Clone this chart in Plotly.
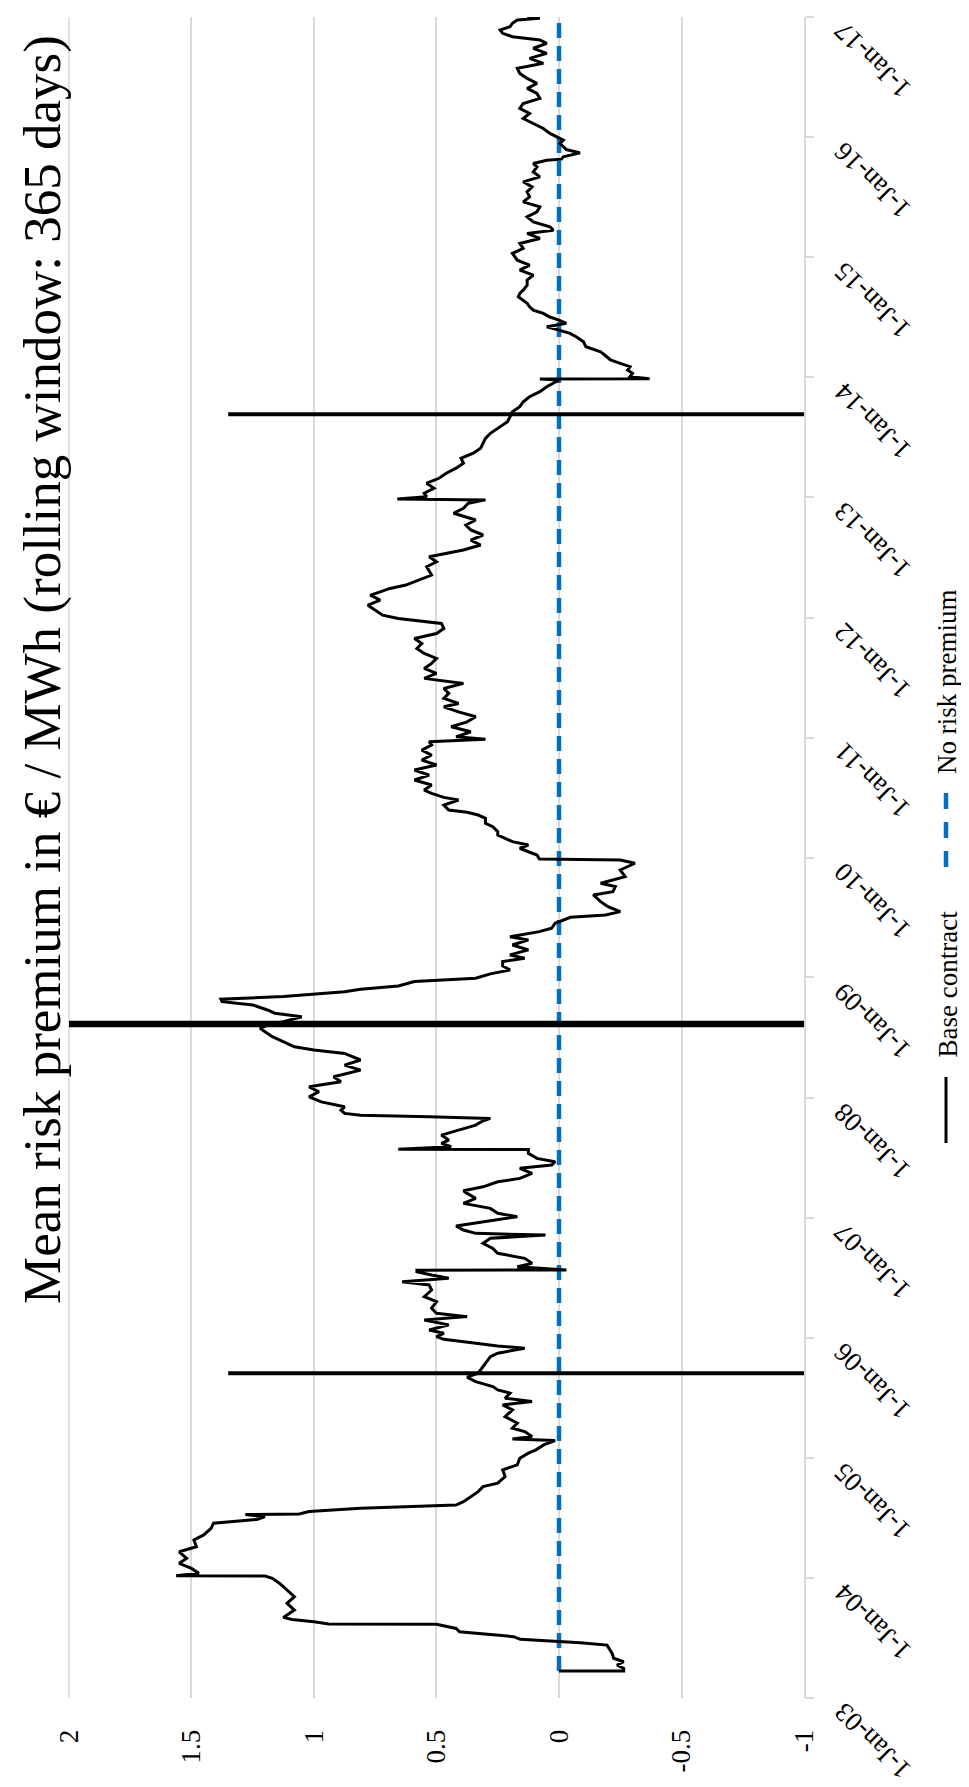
import pandas as pd
import plotly.graph_objects as go

# ---------------- data (decimal years, values in EUR/MWh) ----------------
t03 = [2003.225, 2003.226, 2003.247, 2003.275, 2003.302, 2003.331, 2003.372, 2003.414, 2003.441, 2003.461,
       2003.469, 2003.489, 2003.511, 2003.539, 2003.552, 2003.580, 2003.600, 2003.614, 2003.616, 2003.635,
       2003.655, 2003.672, 2003.733, 2003.789, 2003.844, 2003.899, 2003.955, 2003.997]
v03 = [0.0, -0.264, -0.264, -0.237, -0.264, -0.223, -0.217, -0.203, -0.196, -0.087,
       0.0, 0.158, 0.185, 0.36, 0.406, 0.42, 0.47, 0.5, 0.94, 1.0,
       1.09, 1.125, 1.08, 1.11, 1.08, 1.11, 1.14, 1.17]
t04 = [2004.016, 2004.018, 2004.039, 2004.080, 2004.122, 2004.163, 2004.218, 2004.260, 2004.316, 2004.358,
       2004.413, 2004.455, 2004.468, 2004.488, 2004.510, 2004.528, 2004.532, 2004.552, 2004.580, 2004.607,
       2004.635, 2004.677, 2004.718, 2004.760, 2004.788, 2004.843, 2004.899, 2004.941, 2004.996]
v04 = [1.2, 1.5625, 1.47, 1.5, 1.55, 1.52, 1.55, 1.48, 1.49, 1.45,
       1.42, 1.41, 1.34, 1.23, 1.2, 1.28, 1.06, 1.02, 0.81, 0.42,
       0.39, 0.36, 0.33, 0.31, 0.25, 0.22, 0.23, 0.17, 0.16]
t05 = [2005.038, 2005.066, 2005.107, 2005.143, 2005.157, 2005.176, 2005.218, 2005.246, 2005.288, 2005.343,
       2005.399, 2005.440, 2005.468, 2005.496, 2005.538, 2005.565, 2005.593, 2005.634, 2005.671, 2005.704,
       2005.732, 2005.788, 2005.843, 2005.871, 2005.913, 2005.932, 2005.967, 2005.987]
v05 = [0.125, 0.094, 0.0625, 0.016, 0.19, 0.11, 0.14, 0.19, 0.17, 0.22,
       0.19, 0.23, 0.11, 0.22, 0.2, 0.25, 0.27, 0.34, 0.375, 0.33,
       0.32, 0.30, 0.28, 0.25, 0.14, 0.25, 0.39, 0.47]
t06 = [2006.009, 2006.037, 2006.065, 2006.107, 2006.148, 2006.176, 2006.204, 2006.246, 2006.301, 2006.342,
       2006.398, 2006.440, 2006.467, 2006.496, 2006.523, 2006.550, 2006.562, 2006.565, 2006.592, 2006.620,
       2006.662, 2006.704, 2006.745, 2006.787, 2006.829, 2006.856, 2006.870, 2006.898, 2006.931, 2006.967]
v06 = [0.5, 0.47, 0.53, 0.45, 0.55, 0.375, 0.5, 0.52, 0.5, 0.55,
       0.52, 0.53, 0.64, 0.45, 0.52, 0.58, 0.58, -0.03, 0.17, 0.11,
       0.14, 0.25, 0.27, 0.31, 0.28, 0.055, 0.34, 0.39, 0.42, 0.31]
t07 = [2007.009, 2007.037, 2007.078, 2007.120, 2007.162, 2007.203, 2007.225, 2007.258, 2007.300, 2007.328,
       2007.370, 2007.412, 2007.439, 2007.467, 2007.495, 2007.537, 2007.568, 2007.570, 2007.592, 2007.620,
       2007.647, 2007.689, 2007.731, 2007.772, 2007.808, 2007.828, 2007.841, 2007.855, 2007.870, 2007.897,
       2007.925, 2007.966]
v07 = [0.17, 0.25, 0.28, 0.39, 0.34, 0.375, 0.39, 0.31, 0.25, 0.16,
       0.11, 0.16, 0.03, 0.016, 0.09, 0.125, 0.125, 0.656, 0.44, 0.48,
       0.45, 0.48, 0.41, 0.34, 0.31, 0.28, 0.53, 0.81, 0.875, 0.89,
       0.875, 0.97]
t08 = [2008.008, 2008.050, 2008.091, 2008.133, 2008.175, 2008.230, 2008.272, 2008.314, 2008.369, 2008.397,
       2008.424, 2008.466, 2008.508, 2008.549, 2008.578, 2008.613, 2008.633, 2008.674, 2008.703, 2008.730,
       2008.772, 2008.799, 2008.819, 2008.841, 2008.861, 2008.882, 2008.902, 2008.930, 2008.966, 2008.994]
v08 = [1.02, 0.98, 1.02, 0.89, 0.92, 0.81, 0.875, 0.81, 0.875, 1.0,
       1.08, 1.125, 1.17, 1.2, 1.22, 1.18, 1.125, 1.05, 1.16, 1.19,
       1.25, 1.375, 1.38, 1.125, 1.0, 0.875, 0.81, 0.656, 0.59, 0.34]
t09 = [2009.030, 2009.063, 2009.096, 2009.132, 2009.161, 2009.188, 2009.230, 2009.271, 2009.313, 2009.340,
       2009.382, 2009.410, 2009.452, 2009.480, 2009.502, 2009.521, 2009.549, 2009.590, 2009.632, 2009.688,
       2009.715, 2009.757, 2009.785, 2009.840, 2009.896, 2009.952, 2009.979, 2009.988]
v09 = [0.28, 0.2, 0.23, 0.23, 0.14, 0.2, 0.125, 0.19, 0.125, 0.2,
       0.08, 0.03, 0.016, -0.016, -0.047, -0.19, -0.25, -0.2, -0.17, -0.14,
       -0.22, -0.23, -0.17, -0.27, -0.25, -0.31, -0.25, 0.08]
t10 = [2010.021, 2010.048, 2010.077, 2010.104, 2010.132, 2010.160, 2010.187, 2010.215, 2010.257, 2010.285,
       2010.327, 2010.354, 2010.377, 2010.396, 2010.437, 2010.479, 2010.501, 2010.535, 2010.562, 2010.604,
       2010.646, 2010.687, 2010.729, 2010.771, 2010.812, 2010.854, 2010.895, 2010.937, 2010.965, 2010.985]
v10 = [0.09, 0.125, 0.16, 0.125, 0.19, 0.22, 0.25, 0.25, 0.27, 0.30,
       0.30, 0.33, 0.375, 0.45, 0.47, 0.41, 0.47, 0.52, 0.55, 0.52,
       0.59, 0.53, 0.59, 0.5, 0.56, 0.52, 0.56, 0.52, 0.53, 0.30]
t11 = [2011.006, 2011.048, 2011.090, 2011.131, 2011.173, 2011.214, 2011.256, 2011.284, 2011.326, 2011.368,
       2011.409, 2011.451, 2011.493, 2011.534, 2011.576, 2011.618, 2011.659, 2011.701, 2011.742, 2011.784,
       2011.826, 2011.867, 2011.909, 2011.951, 2011.978, 2011.992]
v11 = [0.42, 0.36, 0.44, 0.375, 0.34, 0.41, 0.47, 0.41, 0.47, 0.45,
       0.47, 0.39, 0.55, 0.5, 0.55, 0.52, 0.5, 0.55, 0.58, 0.56,
       0.59, 0.5, 0.47, 0.48, 0.59, 0.656]
t12 = [2012.020, 2012.061, 2012.103, 2012.145, 2012.186, 2012.214, 2012.242, 2012.270, 2012.297, 2012.325,
       2012.353, 2012.422, 2012.464, 2012.505, 2012.534, 2012.561, 2012.603, 2012.644, 2012.686, 2012.728,
       2012.769, 2012.811, 2012.867, 2012.908, 2012.950, 2012.978, 2012.986]
v12 = [0.72, 0.75, 0.78, 0.73, 0.77, 0.73, 0.69, 0.625, 0.59, 0.56,
       0.52, 0.54, 0.5, 0.53, 0.45, 0.39, 0.32, 0.36, 0.31, 0.36,
       0.38, 0.34, 0.43, 0.39, 0.37, 0.30, 0.66]
t13 = [2013.005, 2013.033, 2013.075, 2013.117, 2013.158, 2013.200, 2013.242, 2013.283, 2013.325, 2013.367,
       2013.408, 2013.450, 2013.491, 2013.533, 2013.588, 2013.630, 2013.671, 2013.713, 2013.755, 2013.796,
       2013.838, 2013.880, 2013.921, 2013.950, 2013.977, 2013.985, 2013.987]
v13 = [0.54, 0.55, 0.51, 0.54, 0.49, 0.46, 0.42, 0.39, 0.40, 0.35,
       0.32, 0.31, 0.30, 0.28, 0.24, 0.21, 0.20, 0.19, 0.16, 0.146,
       0.12, 0.078, 0.05, 0.023, 0.0, 0.078, -0.37]
t14 = [2014.005, 2014.033, 2014.060, 2014.088, 2014.116, 2014.144, 2014.171, 2014.213, 2014.254, 2014.296,
       2014.338, 2014.366, 2014.393, 2014.421, 2014.449, 2014.477, 2014.504, 2014.532, 2014.560, 2014.587,
       2014.616, 2014.643, 2014.671, 2014.699, 2014.726, 2014.768, 2014.810, 2014.851, 2014.893, 2014.935,
       2014.976]
v14 = [-0.29, -0.30, -0.28, -0.29, -0.25, -0.21, -0.195, -0.17, -0.11, -0.10,
       -0.07, -0.045, 0.0, 0.05, -0.03, 0.0, 0.04, 0.064, 0.105, 0.12,
       0.13, 0.146, 0.166, 0.16, 0.146, 0.13, 0.13, 0.105, 0.16, 0.12,
       0.17]
t15 = [2015.032, 2015.074, 2015.115, 2015.157, 2015.199, 2015.226, 2015.254, 2015.295, 2015.337, 2015.379,
       2015.420, 2015.462, 2015.504, 2015.545, 2015.587, 2015.629, 2015.670, 2015.712, 2015.753, 2015.782,
       2015.809, 2015.818, 2015.837, 2015.870, 2015.898, 2015.920, 2015.948, 2015.976]
v15 = [0.19, 0.146, 0.16, 0.078, 0.13, 0.023, 0.037, 0.105, 0.13, 0.09,
       0.078, 0.146, 0.12, 0.13, 0.11, 0.146, 0.078, 0.105, 0.09, 0.105,
       0.05, -0.01, -0.018, -0.086, -0.03, -0.018, -0.004, -0.018]
t16 = [2016.003, 2016.032, 2016.073, 2016.115, 2016.156, 2016.198, 2016.240, 2016.281, 2016.323, 2016.365,
       2016.406, 2016.448, 2016.490, 2016.531, 2016.573, 2016.615, 2016.656, 2016.698, 2016.740, 2016.781,
       2016.809, 2016.836, 2016.864, 2016.892, 2016.919, 2016.948, 2016.975, 2016.989, 2016.998]
v16 = [0.01, 0.037, 0.064, 0.105, 0.146, 0.12, 0.16, 0.146, 0.078, 0.09,
       0.13, 0.09, 0.13, 0.16, 0.17, 0.064, 0.12, 0.05, 0.105, 0.05,
       0.078, 0.19, 0.23, 0.24, 0.2, 0.19, 0.17, 0.078, 0.13]

# event markers (decimal year, value where the bar starts; ends at axis minimum)
marker_years = [2005.703, 2008.613, 2013.691]
marker_start = [1.35, 2.0, 1.35]

value_ticks = [2, 1.5, 1, 0.5, 0, -0.5, -1]
value_tick_text = ["2", "1.5", "1", "0.5", "0", "-0.5", "-1"]
date_tick_years = list(range(2003, 2018))

title_text = "Mean risk premium in € / MWh (rolling window: 365 days)"
legend_names = ["Base contract", "No risk premium"]

# ---------------- helpers ----------------
def dec_to_date(y):
    yr = int(y)
    start = pd.Timestamp(yr, 1, 1)
    ndays = (pd.Timestamp(yr + 1, 1, 1) - start).days
    return start + pd.Timedelta(days=(y - yr) * ndays)

segments = [(t03, v03), (t04, v04), (t05, v05), (t06, v06), (t07, v07), (t08, v08), (t09, v09),
            (t10, v10), (t11, v11), (t12, v12), (t13, v13), (t14, v14), (t15, v15), (t16, v16)]
dec_years, premium = [], []
for tt, vv in segments:
    assert len(tt) == len(vv), (tt[0], len(tt), len(vv))
    dec_years += tt
    premium += vv
dates = [dec_to_date(y) for y in dec_years]

FONT = "Liberation Serif"
BLUE = "#0070C0"
GRID = "#d9d9d9"

fig = go.Figure()

# No risk premium (zero line)
fig.add_trace(go.Scatter(x=[0, 0], y=[dates[0], dates[-1]], mode="lines",
                         line=dict(color=BLUE, width=4.5, dash="15px,8px"),
                         hoverinfo="skip", showlegend=False))
# Base contract
fig.add_trace(go.Scatter(x=premium, y=dates, mode="lines",
                         line=dict(color="black", width=3), showlegend=False))
# event markers
marker_widths = [4, 6.5, 4]
for yr, xs, w in zip(marker_years, marker_start, marker_widths):
    d = dec_to_date(yr)
    fig.add_trace(go.Scatter(x=[xs, -1], y=[d, d], mode="lines",
                             line=dict(color="black", width=w),
                             hoverinfo="skip", showlegend=False))

# page has an 8px body margin: figure sits at (8, 8) on the page
OFF = 8
W, H = 969 - OFF, 1787 - OFF
L, R, T, B = 60, 165, 9, 89
pw, ph = W - L - R, H - T - B

def px_x(x_page):
    return (x_page - OFF - L) / pw

def px_y(y_page):
    return 1 - (y_page - OFF - T) / ph

annotations = []
for yr in date_tick_years:
    annotations.append(dict(text=f"1-Jan-{yr % 100:02d}", x=px_x(826), xref="paper",
                            y=f"{yr}-01-01", yref="y", xanchor="left", yanchor="top",
                            yshift=3, textangle=-135, showarrow=False,
                            font=dict(family=FONT, size=27, color="black")))
# title
annotations.append(dict(text=title_text, x=px_x(42), xref="paper", y=px_y(670), yref="paper",
                        xanchor="center", yanchor="middle", textangle=-90, showarrow=False,
                        font=dict(family=FONT, size=53, color="black")))
# legend texts
annotations.append(dict(text=legend_names[0], x=px_x(947), xref="paper", y=px_y(1060), yref="paper",
                        xanchor="center", yanchor="bottom", textangle=-90, showarrow=False,
                        font=dict(family=FONT, size=27, color="black")))
annotations.append(dict(text=legend_names[1], x=px_x(947), xref="paper", y=px_y(776), yref="paper",
                        xanchor="center", yanchor="bottom", textangle=-90, showarrow=False,
                        font=dict(family=FONT, size=27, color="black")))

shapes = [
    # grid line at the upper value limit (plotly omits it at the range edge)
    dict(type="line", xref="x", yref="paper", x0=2, x1=2, y0=0, y1=1,
         line=dict(color=GRID, width=1.5), layer="below"),
    dict(type="line", xref="paper", yref="paper", x0=px_x(946), x1=px_x(946),
         y0=px_y(1143), y1=px_y(1077), line=dict(color="black", width=3)),
    dict(type="line", xref="paper", yref="paper", x0=px_x(946), x1=px_x(946),
         y0=px_y(867), y1=px_y(793), line=dict(color=BLUE, width=4.5, dash="16px,13px")),
]

fig.update_layout(
    width=W, height=H, autosize=False,
    margin=dict(l=L, r=R, t=T, b=B, pad=0),
    paper_bgcolor="white", plot_bgcolor="white",
    showlegend=False,
    annotations=annotations, shapes=shapes,
    xaxis=dict(range=[2.004, -1], tickvals=value_ticks, ticktext=value_tick_text,
               showgrid=True, gridcolor=GRID, gridwidth=1.5, zeroline=False, showline=False,
               tickangle=-90, ticks="outside", ticklen=20, tickcolor="rgba(0,0,0,0)",
               tickfont=dict(family=FONT, size=27, color="black")),
    yaxis=dict(type="date", range=["2003-01-01", "2017-01-01"], side="right",
               tickvals=[f"{y}-01-01" for y in date_tick_years], showticklabels=False,
               showgrid=False, zeroline=False, showline=True, linecolor=GRID, linewidth=1.5,
               ticks="outside", ticklen=8, tickcolor=GRID, tickwidth=1.5),
)

fig.write_html("out.html", config={"displayModeBar": False})
